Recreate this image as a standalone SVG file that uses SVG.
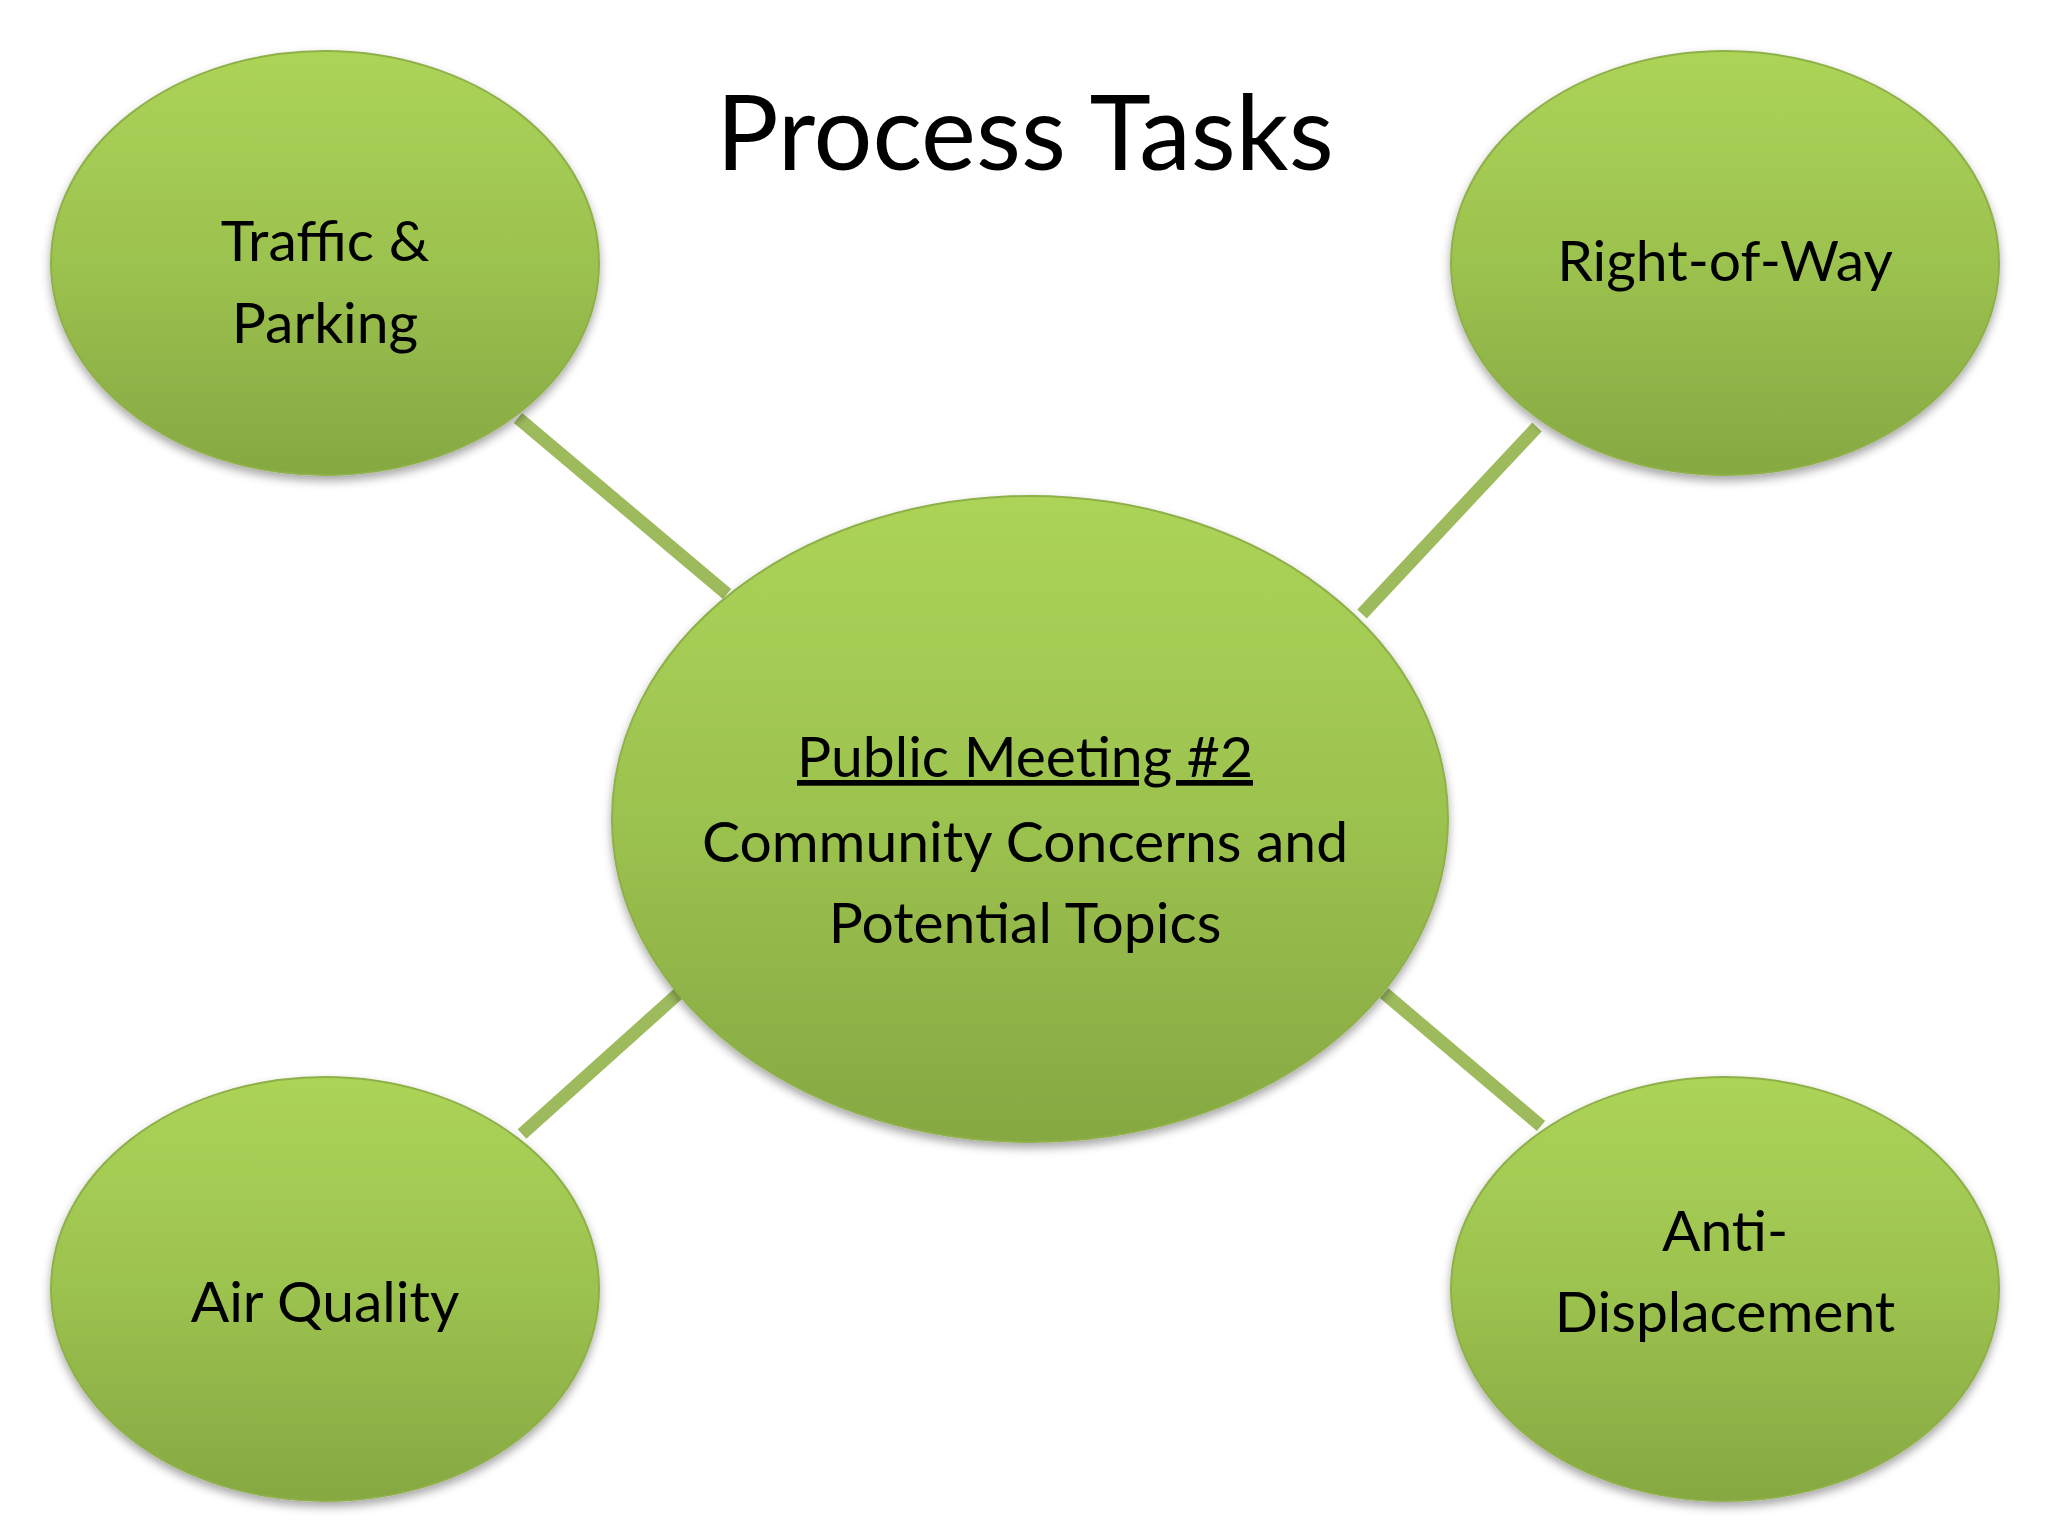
<svg xmlns="http://www.w3.org/2000/svg" width="2048" height="1536" viewBox="0 0 2048 1536">
<defs>
<linearGradient id="g" x1="0" y1="0" x2="0" y2="1">
<stop offset="0" stop-color="#acd457"/><stop offset="0.5" stop-color="#9cc24f"/><stop offset="1" stop-color="#86a842"/>
</linearGradient>
<filter id="sh" x="-20%" y="-20%" width="140%" height="140%"><feDropShadow dx="0" dy="5" stdDeviation="5" flood-color="#000" flood-opacity="0.35"/></filter>
</defs>
<style>
.n{fill:url(#g);stroke:#8fb04a;stroke-width:2;filter:url(#sh)}
.c{stroke:#9dbb5c;stroke-width:13}
text{font-family:"Lato","Liberation Sans",sans-serif;fill:#000;text-anchor:middle}
.t{font-size:57px}
</style>
<rect width="2048" height="1536" fill="#fff"/>
<text x="1025" y="170" font-size="104">Process Tasks</text>
<g id="connectors">
<line class="c" x1="518" y1="418" x2="727" y2="594"/>
<line class="c" x1="1537" y1="427" x2="1362" y2="614"/>
<line class="c" x1="522" y1="1134" x2="679" y2="993"/>
<line class="c" x1="1541" y1="1126" x2="1384" y2="993"/>
</g>
<g id="traffic"><ellipse class="n" cx="325" cy="263" rx="274" ry="212"/><text class="t" x="325" y="261">Traffic &amp;</text><text class="t" x="325" y="343">Parking</text></g>
<g id="row"><ellipse class="n" cx="1725" cy="263" rx="274" ry="212"/><text class="t" x="1725" y="281">Right-of-Way</text></g>
<g id="air"><ellipse class="n" cx="325" cy="1289" rx="274" ry="212"/><text class="t" x="325" y="1322">Air Quality</text></g>
<g id="anti"><ellipse class="n" cx="1725" cy="1289" rx="274" ry="212"/><text class="t" x="1725" y="1251">Anti-</text><text class="t" x="1725" y="1332">Displacement</text></g>
<g id="center"><ellipse class="n" cx="1030" cy="819" rx="418" ry="323"/>
<text class="t" x="1025" y="777" font-size="62" text-decoration="underline">Public Meeting #2</text>
<text class="t" x="1025" y="862">Community Concerns and</text>
<text class="t" x="1025" y="943">Potential Topics</text></g>
</svg>
